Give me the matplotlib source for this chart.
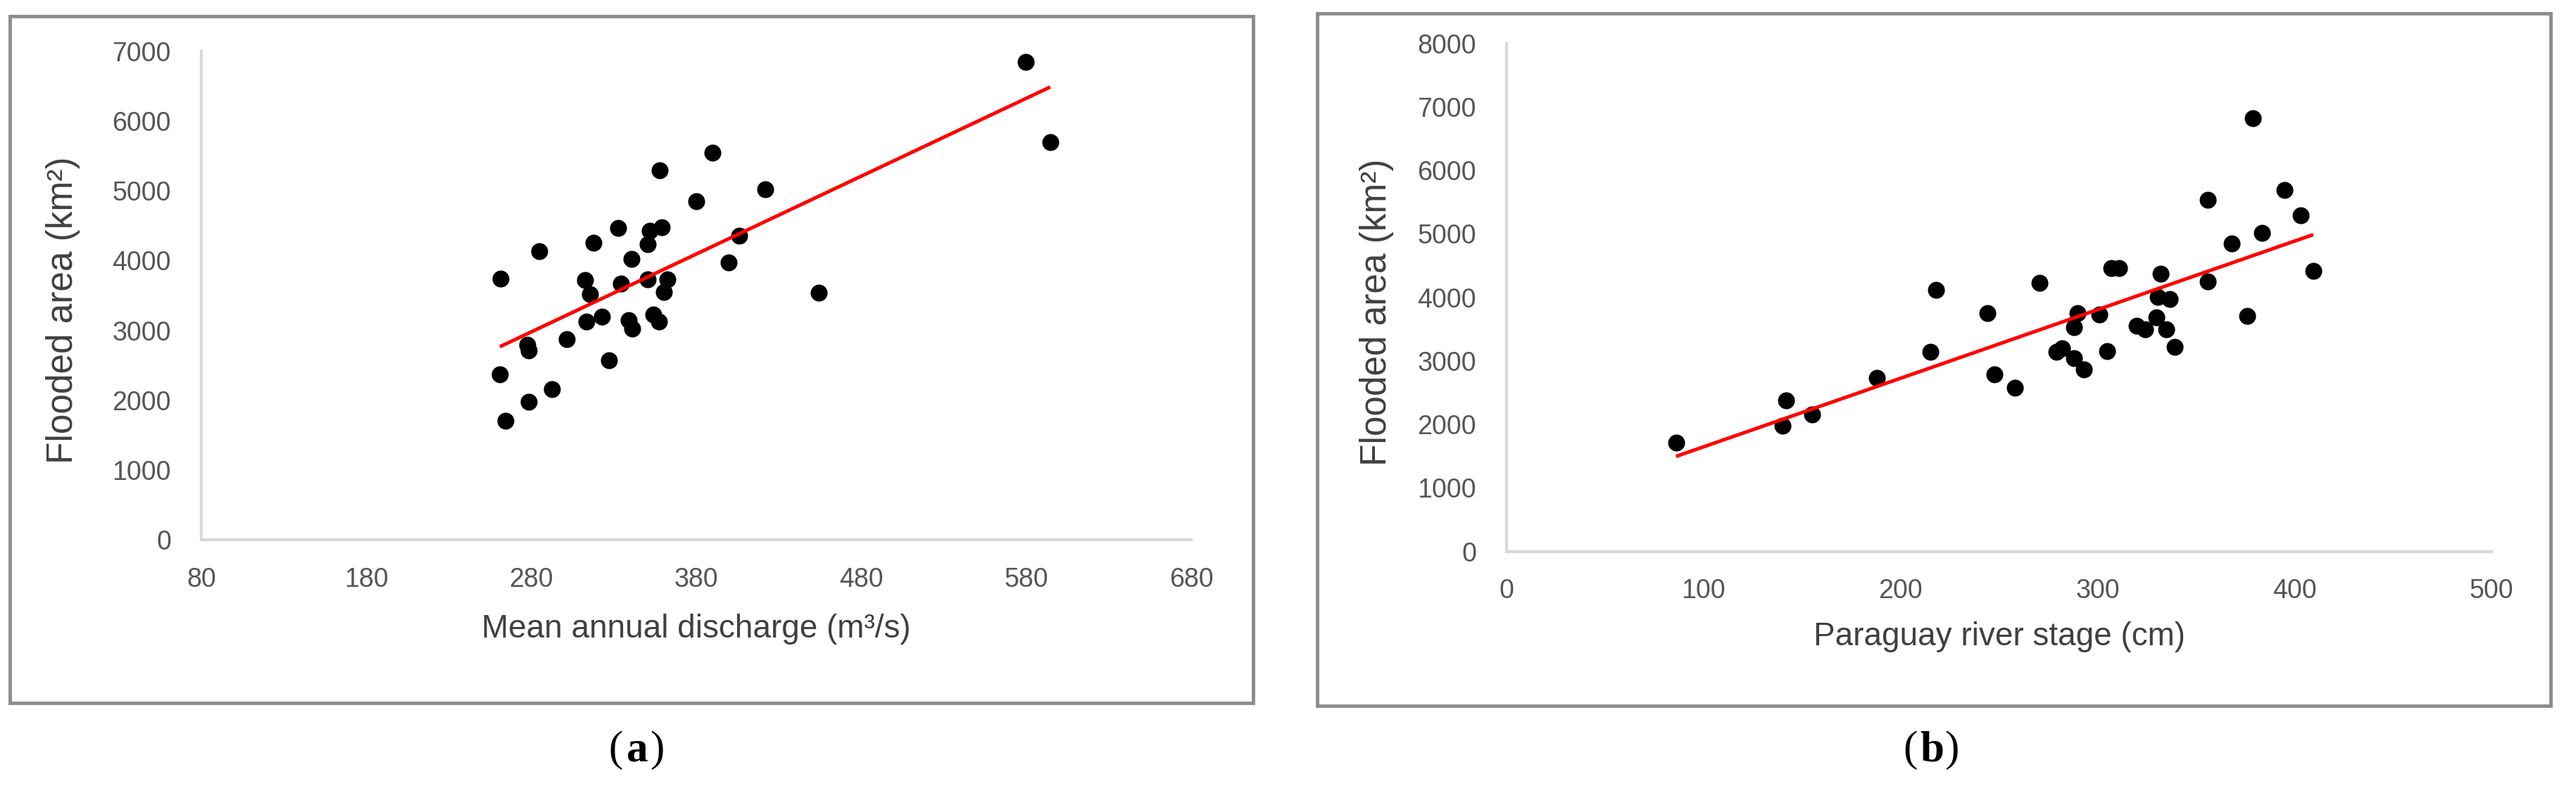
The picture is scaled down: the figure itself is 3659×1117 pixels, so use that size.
import matplotlib
matplotlib.use('Agg')
import matplotlib.pyplot as plt
import numpy as np
from matplotlib.patches import Rectangle

plt.rcParams['font.family'] = ['Liberation Sans', 'DejaVu Sans']

# ---------------- data ----------------
# Panel (a): mean annual discharge (m3/s) vs flooded area (km2)
discharge_a = [389.7, 357.7, 379.8, 332.8, 359.1, 352.0, 350.6, 317.6, 284.9, 340.9,
               406.1, 399.7, 261.4, 312.5, 334.2, 350.6, 362.7, 360.5, 315.7, 313.6,
               322.8, 339.2, 341.3, 354.1, 357.4, 301.5, 277.7, 278.3, 327.1, 261.0,
               292.5, 278.3, 264.5, 579.9, 594.6, 421.7, 454.4]
area_a = [5547, 5300, 4853, 4467, 4477, 4426, 4241, 4258, 4134, 4023,
          4359, 3972, 3743, 3720, 3669, 3736, 3736, 3552, 3518, 3131,
          3199, 3148, 3030, 3232, 3131, 2879, 2795, 2711, 2576, 2374,
          2156, 1981, 1702, 6848, 5694, 5022, 3542]

# Panel (b): Paraguay river stage (cm) vs flooded area (km2)
stage_b = [86.0, 140.0, 142.0, 155.0, 188.0, 215.0, 218.0, 244.0, 247.5, 258.0,
           270.6, 279.0, 282.0, 288.0, 293.0, 290.0, 288.0, 301.0, 305.0, 307.0,
           311.0, 320.0, 324.0, 330.0, 330.5, 332.0, 335.0, 336.5, 339.0, 356.0,
           356.0, 368.0, 376.0, 379.0, 383.5, 395.0, 403.0, 409.5]
area_b = [1710, 1980, 2375, 2155, 2730, 3137, 4117, 3754, 2782, 2582,
          4227, 3137, 3199, 3041, 2867, 3754, 3532, 3735, 3152, 4456,
          4456, 3551, 3496, 3680, 4012, 4375, 3495, 3976, 3225, 4253,
          5536, 4844, 3710, 6822, 5018, 5687, 5295, 4412]

xticks_a = [80, 180, 280, 380, 480, 580, 680]
yticks_a = [0, 1000, 2000, 3000, 4000, 5000, 6000, 7000]
xticks_b = [0, 100, 200, 300, 400, 500]
yticks_b = [0, 1000, 2000, 3000, 4000, 5000, 6000, 7000, 8000]

xlabel_a = 'Mean annual discharge (m³/s)'
xlabel_b = 'Paraguay river stage (cm)'
ylabel = 'Flooded area (km²)'

# ---------------- figure ----------------
W, H = 3659, 1117
fig = plt.figure(figsize=(W / 100, H / 100), dpi=100)
fig.patch.set_facecolor('white')


def px_axes(l, r, b, t):
    return fig.add_axes([l / W, 1 - b / H, (r - l) / W, (b - t) / H])


def frame(l, t, r, b):
    fig.add_artist(Rectangle((l / W, 1 - b / H), (r - l) / W, (b - t) / H,
                             transform=fig.transFigure, fill=False,
                             ec='#8c8c8c', lw=3.5, zorder=0))


def style(ax, x, y, xt, yt, xlab, xl_y, yl_x):
    ax.scatter(x, y, s=300, color='black', zorder=3, linewidths=0)
    coef = np.polyfit(x, y, 1)
    xs = np.array([min(x), max(x)])
    ax.plot(xs, np.polyval(coef, xs), color='#ff0000', lw=3.6, zorder=4,
            solid_capstyle='butt')
    ax.set_xlim(xt[0], xt[-1])
    ax.set_ylim(yt[0], yt[-1])
    ax.set_xticks(xt)
    ax.set_yticks(yt)
    for s in ['top', 'right']:
        ax.spines[s].set_visible(False)
    for s in ['left', 'bottom']:
        ax.spines[s].set_color('#d9d9d9')
        ax.spines[s].set_linewidth(3)
    ax.tick_params(axis='both', length=0, labelsize=27, labelcolor='#555555')
    ax.tick_params(axis='y', pad=31)
    ax.tick_params(axis='x', pad=28)
    ax.set_xlabel(xlab, fontsize=33, color='#404040')
    ax.xaxis.label.set_va('center')
    ax.xaxis.set_label_coords(0.5, xl_y)
    ax.set_ylabel(ylabel, fontsize=37, color='#404040')
    ax.yaxis.label.set_va('center')
    ax.yaxis.set_label_coords(yl_x, 0.47)
    ax.set_facecolor('none')


frame(14, 23, 1780, 999)
frame(1871, 19, 3623, 1003)

axA = px_axes(286, 1692, 767, 73)
style(axA, discharge_a, area_a, xticks_a, yticks_a, xlabel_a, -0.183, -0.140)

axB = px_axes(2140, 3539, 783.5, 61.7)
style(axB, stage_b, area_b, xticks_b, yticks_b, xlabel_b, -0.168, -0.132)

# panel captions
for xc, letter in [(905, 'a'), (2744, 'b')]:
    fig.text(xc / W - 0.0083, 1 - 1066 / H, '(', fontsize=44, family='Liberation Serif',
             ha='center', va='center')
    fig.text(xc / W, 1 - 1066 / H, letter, fontsize=44, family='Liberation Serif',
             fontweight='bold', ha='center', va='center')
    fig.text(xc / W + 0.0078, 1 - 1066 / H, ')', fontsize=44, family='Liberation Serif',
             ha='center', va='center')

fig.savefig('out.png', dpi=100, facecolor='white')
